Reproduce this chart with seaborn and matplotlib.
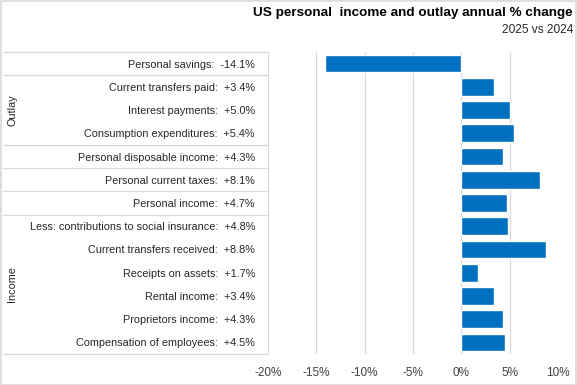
import matplotlib
matplotlib.use("Agg")
import matplotlib.pyplot as plt
import matplotlib.transforms as mtransforms
import seaborn as sns
import pandas as pd

categories = [
    "Personal savings",
    "Current transfers paid",
    "Interest payments",
    "Consumption expenditures",
    "Personal disposable income",
    "Personal current taxes",
    "Personal income",
    "Less: contributions to social insurance",
    "Current transfers received",
    "Receipts on assets",
    "Rental income",
    "Proprietors income",
    "Compensation of employees",
]
values = [-14.1, 3.4, 5.0, 5.4, 4.3, 8.1, 4.7, 4.8, 8.8, 1.7, 3.4, 4.3, 4.5]
x_ticks = [-20, -15, -10, -5, 0, 5, 10]
x_tick_labels = ["-20%", "-15%", "-10%", "-5%", "0%", "5%", "10%"]
title = "US personal  income and outlay annual % change"
group_labels = ["Outlay", "Income"]

sns.set_theme(style="white")
plt.rcParams["font.family"] = ["Liberation Sans", "DejaVu Sans"]

W, H = 577, 385
fig = plt.figure(figsize=(W / 100, H / 100), dpi=100)
ax_left, ax_right, ax_top, ax_bot = 268, 558, 52, 354
ax = fig.add_axes([ax_left / W, 1 - ax_bot / H, (ax_right - ax_left) / W, (ax_bot - ax_top) / H])

df = pd.DataFrame({"category": categories, "value": values})
sns.barplot(data=df, x="value", y="category", orient="h", color="#0070C0",
            saturation=1, width=0.76, ax=ax, order=categories)

ax.set_xlim(-20, 10)
ax.set_ylim(len(categories) - 0.5, -0.5)
ax.set_xticks(x_ticks)
ax.set_xticklabels(x_tick_labels, fontsize=8.5, color="#404040")
labels = [f"{c}:  {v:+.1f}%" for c, v in zip(categories, values)]
ax.set_yticks(range(len(categories)))
ax.set_yticklabels(labels, fontsize=7.8, color="#262626")
ax.tick_params(axis="y", length=0, pad=9.4)
ax.tick_params(axis="x", length=0, pad=9)
ax.set_xlabel("")
ax.set_ylabel("")
for s in ax.spines.values():
    s.set_visible(False)
for t in x_ticks:
    ax.axvline(t, color="#d9d9d9", lw=0.9, zorder=0)

# table lines
trans = mtransforms.blended_transform_factory(fig.transFigure, ax.transData)
for yb in [-0.5, 0.5, 3.5, 4.5, 5.5, 6.5, 12.5]:
    ax.plot([3 / W, ax_left / W], [yb, yb], transform=trans, color="#d9d9d9",
            lw=0.9, clip_on=False)

ax.text(12 / W, 2.0, group_labels[0], transform=trans, rotation=90, ha="center",
        va="center", fontsize=7.8, color="#262626")
ax.text(12 / W, 9.5, group_labels[1], transform=trans, rotation=90, ha="center",
        va="center", fontsize=7.8, color="#262626")

fig.text(573 / W, 1 - 13 / H, title, ha="right", va="center", fontsize=9.7,
         fontweight="bold", color="#000000")
fig.text(573 / W, 1 - 30 / H, "2025 vs 2024", ha="right", va="center", fontsize=8.6,
         color="#262626")

fig.patches.append(plt.Rectangle((0.5 / W, 0.5 / H), (W - 1.5) / W, (H - 1.5) / H,
                                 transform=fig.transFigure, fill=False,
                                 edgecolor="#d9d9d9", lw=1.2))

fig.savefig("out.png", dpi=100)
